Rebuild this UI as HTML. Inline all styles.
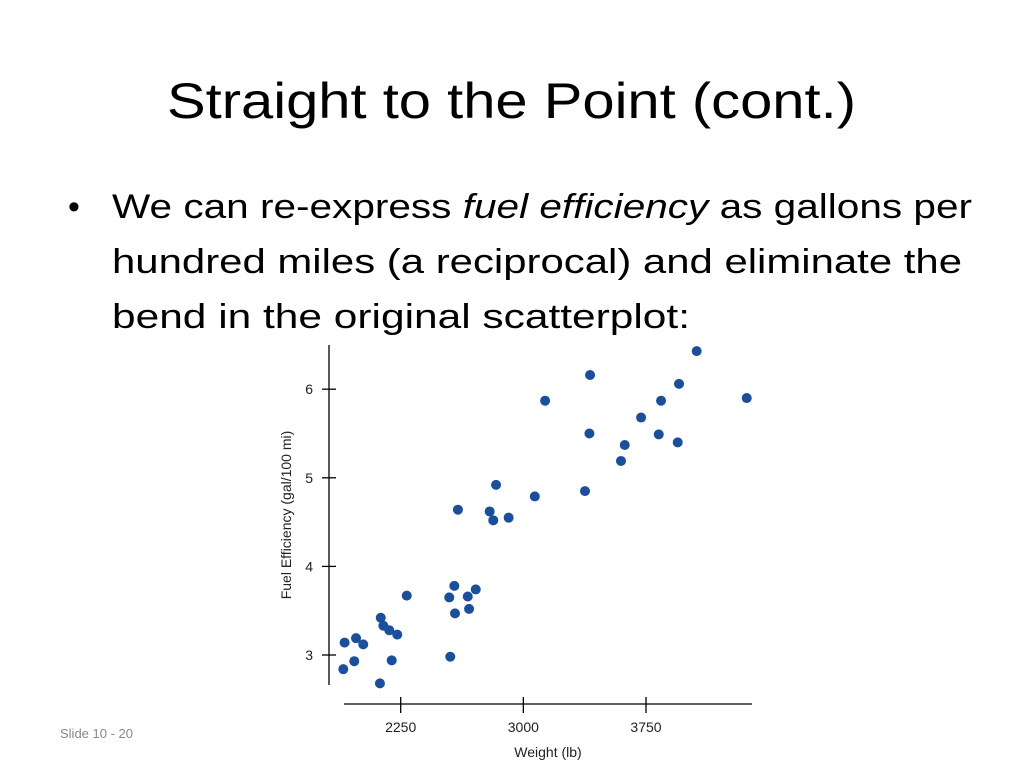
<!DOCTYPE html>
<html><head><meta charset="utf-8"><style>
html,body{margin:0;padding:0;background:#fff}
svg{display:block}
text{font-family:"Liberation Sans",Arial,sans-serif}
</style></head><body>
<svg id="slide" width="1024" height="768" viewBox="0 0 1024 768">
<text x="167" y="118" font-size="50" textLength="689" lengthAdjust="spacingAndGlyphs" fill="#000">Straight to the Point (cont.)</text>
<text x="68" y="218" font-size="34" fill="#000">•</text>
<text x="112" y="218" font-size="34" textLength="860" lengthAdjust="spacingAndGlyphs" fill="#000">We can re-express <tspan font-style="italic">fuel efficiency</tspan> as gallons per</text>
<text x="112" y="273" font-size="34" textLength="850" lengthAdjust="spacingAndGlyphs" fill="#000">hundred miles (a reciprocal) and eliminate the</text>
<text x="112" y="328" font-size="34" textLength="578" lengthAdjust="spacingAndGlyphs" fill="#000">bend in the original scatterplot:</text>
<text x="60" y="738" font-size="13" fill="#888">Slide 10 - 20</text>
<g id="chart"></g>
</svg>
<script>
const weights=[4060,3408,3952,4366,3133,3842,3720,3404,3828,3944,3620,3597,2833,3070,3377,2600,2794,2816,2910,2287,2578,2709,2547,2660,2668,2582,2128,2144,2180,2229,1977,1907,2021,2553,1966,2195,1899,2123];
const gallons=[6.43,6.16,6.06,5.90,5.87,5.87,5.68,5.50,5.49,5.40,5.37,5.19,4.92,4.79,4.85,4.64,4.62,4.52,4.55,3.67,3.78,3.74,3.65,3.66,3.52,3.47,3.42,3.33,3.28,3.23,3.19,3.14,3.12,2.98,2.93,2.94,2.84,2.68];
const xTicks=[2250,3000,3750];
const yTicks=[3,4,5,6];
const NS="http://www.w3.org/2000/svg";
const g=document.getElementById('chart');
function sx(w){return 400.7+(w-2250)*(245.3/1500);}
function sy(v){return 655-(v-3)*88.6;}
function mk(t,a,txt){const e=document.createElementNS(NS,t);for(const k in a)e.setAttribute(k,a[k]);if(txt!=null)e.textContent=txt;g.appendChild(e);return e;}
let e;
e=mk('line',{x1:329,y1:345,x2:329,y2:685,stroke:'#000','stroke-width':1.3});


e=mk('line',{x1:344,y1:704,x2:752,y2:704,stroke:'#000','stroke-width':1.3});


yTicks.forEach(v=>{
 e=mk('line',{x1:322,y1:sy(v),x2:336,y2:sy(v),stroke:'#000','stroke-width':1.3});
 
 
 e=mk('text',{x:313,y:sy(v)+5,'font-size':14,'text-anchor':'end',fill:'#222'},String(v));
 
 
});
xTicks.forEach(w=>{
 e=mk('line',{x1:sx(w),y1:697,x2:sx(w),y2:713,stroke:'#000','stroke-width':1.3});
 
 
 e=mk('text',{x:sx(w),y:732,'font-size':14,'text-anchor':'middle',fill:'#222'},String(w));
 
 
});
e=mk('text',{x:548,y:757,'font-size':14,'text-anchor':'middle',fill:'#222'},'Weight (lb)');


e=mk('text',{x:0,y:0,'font-size':14,'text-anchor':'middle',fill:'#222',transform:'translate(291,515) rotate(-90)'},'Fuel Efficiency (gal/100 mi)');


weights.forEach((w,i)=>{
 e=mk('circle',{cx:sx(w),cy:sy(gallons[i]),r:5,fill:'#1a4f9e'});
 
 
});
</script>
</body></html>
